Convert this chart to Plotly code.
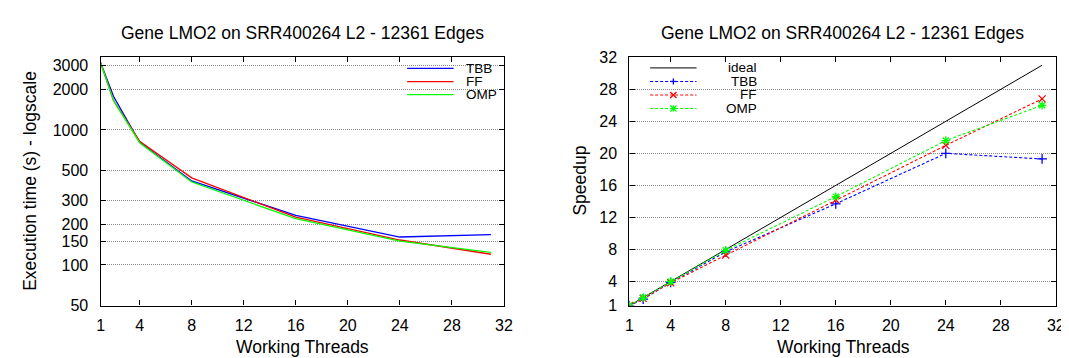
import plotly.graph_objects as go

# ---------------- data ----------------
threads = [1, 2, 4, 8, 16, 24, 31]
time_tbb = [3150, 1770, 810, 419, 233, 161, 168]
time_ff = [3150, 1650, 826, 442, 226, 153, 120]
time_omp = [3150, 1650, 805, 412, 220, 150, 124]

speed_ideal = [1, 2, 4, 8, 16, 24, 31]
speed_tbb = [1, 1.8, 3.9, 7.7, 13.7, 20.0, 19.3]
speed_ff = [1, 1.9, 3.85, 7.3, 14.2, 21.0, 26.8]
speed_omp = [1, 2.0, 4.0, 7.9, 14.6, 21.6, 26.0]

x_ticks = [1, 4, 8, 12, 16, 20, 24, 28, 32]
time_ticks = [50, 100, 150, 200, 300, 500, 1000, 2000, 3000]
speed_ticks = [1, 4, 8, 12, 16, 20, 24, 28, 32]

title_text = "Gene LMO2 on SRR400264 L2 - 12361 Edges"

W, H = 1069, 358
FONT = "Liberation Sans, Arial, sans-serif"
BLUE, RED, GREEN = "#0000ff", "#ff0000", "#00ff00"
GRID = dict(showgrid=True, gridcolor="#8c8c8c", griddash="1px,1px", gridwidth=1)


def px(x):
    return x / W


def py(y):
    return 1 - y / H


fig = go.Figure()

# left: execution time (log)
for name, ys, col in [("TBB", time_tbb, BLUE), ("FF", time_ff, RED), ("OMP", time_omp, GREEN)]:
    fig.add_trace(go.Scatter(x=threads, y=ys, mode="lines", name=name,
                             line=dict(color=col, width=1.3),
                             xaxis="x", yaxis="y", showlegend=False))

# right: speedup
fig.add_trace(go.Scatter(x=threads, y=speed_ideal, mode="lines", name="ideal",
                         line=dict(color="black", width=1), xaxis="x2", yaxis="y2",
                         showlegend=False))
for name, ys, col, sym in [("TBB", speed_tbb, BLUE, "cross-thin-open"),
                           ("FF", speed_ff, RED, "x-thin-open"),
                           ("OMP", speed_omp, GREEN, "asterisk-open")]:
    fig.add_trace(go.Scatter(x=threads, y=ys, mode="lines+markers", name=name,
                             line=dict(color=col, width=1.1, dash="3px,2px"),
                             marker=dict(symbol=sym, size=7, color=col,
                                         line=dict(color=col, width=1.3)),
                             xaxis="x2", yaxis="y2", showlegend=False))

axis_common = dict(showline=True, linecolor="black", linewidth=1.3, mirror="ticks",
                   ticks="inside", ticklen=5, tickcolor="black", tickwidth=1,
                   zeroline=False, tickfont=dict(family=FONT, size=16, color="black"))

ydom = [py(304), py(43.3)]
fig.update_layout(
    width=W, height=H,
    margin=dict(l=0, r=0, t=0, b=0),
    paper_bgcolor="white", plot_bgcolor="white",
    showlegend=False,
    xaxis=dict(domain=[px(89.7), px(498)], range=[1, 32], tickvals=x_ticks,
               showgrid=False, anchor="y", ticklabelstandoff=5, **axis_common),
    yaxis=dict(domain=ydom, type="log", range=[1.69897, 3.539], tickvals=time_ticks,
               anchor="x", ticklabelstandoff=8, **GRID, **axis_common),
    xaxis2=dict(domain=[px(625), px(1056.7)], range=[1, 32], tickvals=x_ticks,
                showgrid=False, anchor="y2", ticklabelstandoff=5, **axis_common),
    yaxis2=dict(domain=ydom, range=[1, 32], tickvals=speed_ticks,
                anchor="x2", ticklabelstandoff=8, **GRID, **axis_common),
)

ann = []
shapes = []
# titles
for cx in (293.8, 840.8):
    ann.append(dict(text=title_text, x=px(cx), y=py(18), xref="paper", yref="paper",
                    xanchor="center", yanchor="middle", showarrow=False,
                    font=dict(family=FONT, size=17.5, color="black")))
# x axis titles
for cx in (293.8, 841.5):
    ann.append(dict(text="Working Threads", x=px(cx), y=py(348), xref="paper", yref="paper",
                    xanchor="center", yanchor="middle", showarrow=False,
                    font=dict(family=FONT, size=17.5, color="black")))
# y axis titles
ann.append(dict(text="Execution time (s) - logscale", x=px(18.3), y=py(173), xref="paper",
                yref="paper", xanchor="center", yanchor="middle", showarrow=False,
                textangle=-90, font=dict(family=FONT, size=17.5, color="black")))
ann.append(dict(text="Speedup", x=px(574.8), y=py(173), xref="paper",
                yref="paper", xanchor="center", yanchor="middle", showarrow=False,
                textangle=-90, font=dict(family=FONT, size=17.5, color="black")))

# ---- left key ----
shapes.append(dict(type="rect", xref="paper", yref="paper", x0=px(390), x1=px(488),
                   y0=py(47), y1=py(90), fillcolor="white", line=dict(width=0),
                   layer="between"))
for i, (name, col) in enumerate([("TBB", BLUE), ("FF", RED), ("OMP", GREEN)]):
    yy = 55 + i * 13.8
    shapes.append(dict(type="line", xref="paper", yref="paper", x0=px(400), x1=px(447),
                       y0=py(yy), y1=py(yy), line=dict(color=col, width=1.3)))
    ann.append(dict(text=name, x=px(457.5), y=py(yy), xref="paper", yref="paper",
                    xanchor="left", yanchor="middle", showarrow=False,
                    font=dict(family=FONT, size=13.5, color="black")))

# ---- right key ----
shapes.append(dict(type="rect", xref="paper", yref="paper", x0=px(632), x1=px(757),
                   y0=py(47), y1=py(104), fillcolor="white", line=dict(width=0),
                   layer="between"))
key_right = [("ideal", "black", None), ("TBB", BLUE, "+"), ("FF", RED, "x"), ("OMP", GREEN, "*")]
for i, (name, col, mk) in enumerate(key_right):
    yy = 54.5 + i * 14.2
    shapes.append(dict(type="line", xref="paper", yref="paper", x0=px(646), x1=px(693),
                       y0=py(yy), y1=py(yy),
                       line=dict(color=col, width=1 if mk is None else 1.1,
                                 dash="solid" if mk is None else "3px,2px")))
    cx = 669.5
    s = 3.2
    if mk in ("+", "*"):
        shapes.append(dict(type="line", xref="paper", yref="paper", x0=px(cx - s), x1=px(cx + s),
                           y0=py(yy), y1=py(yy), line=dict(color=col, width=1.3)))
        shapes.append(dict(type="line", xref="paper", yref="paper", x0=px(cx), x1=px(cx),
                           y0=py(yy - s), y1=py(yy + s), line=dict(color=col, width=1.3)))
    if mk in ("x", "*"):
        shapes.append(dict(type="line", xref="paper", yref="paper", x0=px(cx - s), x1=px(cx + s),
                           y0=py(yy - s), y1=py(yy + s), line=dict(color=col, width=1.3)))
        shapes.append(dict(type="line", xref="paper", yref="paper", x0=px(cx - s), x1=px(cx + s),
                           y0=py(yy + s), y1=py(yy - s), line=dict(color=col, width=1.3)))
    ann.append(dict(text=name, x=px(756), y=py(yy), xref="paper", yref="paper",
                    xanchor="right", yanchor="middle", showarrow=False,
                    font=dict(family=FONT, size=13.5, color="black")))

fig.update_layout(annotations=ann, shapes=shapes)
fig.write_html("out.html")
